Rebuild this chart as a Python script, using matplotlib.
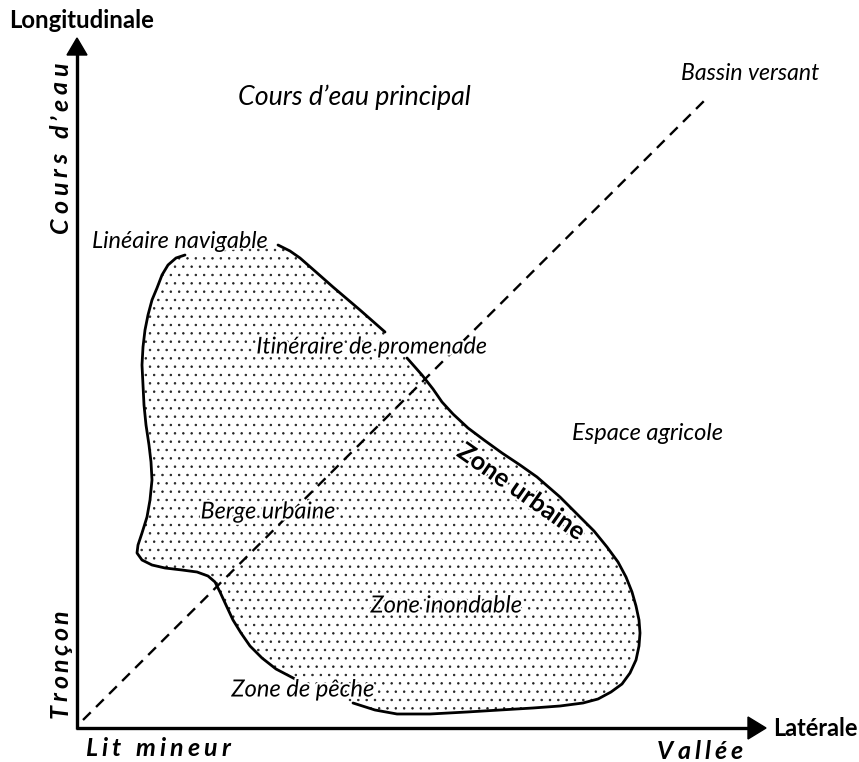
import matplotlib
matplotlib.use("Agg")
import matplotlib.pyplot as plt
from matplotlib.patches import Polygon
import matplotlib.patheffects as pe
import matplotlib as mpl

# ---- data (pixel-space coordinates of the conceptual diagram) ----
outline_left = [(185, 255), (176, 258), (168, 265), (162, 275), (157, 288), (152, 300),
                (148, 315), (145, 330), (143, 347), (142, 365), (143, 385), (144, 405),
                (146, 425), (149, 445), (151, 462), (152, 480), (150, 500), (147, 517),
                (142, 533), (138, 545), (137, 553), (142, 560), (152, 565), (165, 568),
                (182, 570), (197, 572), (208, 576), (215, 582), (220, 592), (226, 605),
                (233, 620), (241, 633), (250, 646), (262, 658), (276, 669), (297, 680)]
outline_bottom_right = [(353, 703), (375, 710), (397, 714), (430, 714), (467, 712),
                        (500, 710), (533, 708), (560, 706), (583, 703), (598, 699),
                        (611, 692), (622, 684), (630, 673), (636, 660), (639, 646),
                        (640, 633), (639, 620), (636, 606), (632, 592), (626, 577),
                        (618, 562), (607, 547), (594, 531), (580, 517), (560, 497),
                        (537, 477), (520, 465), (502, 453), (484, 440), (468, 428),
                        (453, 414), (442, 402), (433, 389), (422, 375), (407, 358)]
outline_top_right = [(278, 245), (290, 251), (300, 258), (316, 272), (333, 287),
                     (360, 310), (385, 332)]

diagonal = [(83, 720), (705, 100)]

axis_origin = (77, 728)
y_axis_tip = (77, 38)
x_axis_tip = (766, 728)

# (text, centre x, centre y, width in px, inside blob)
labels_italic = [
    ("Cours d\u2019eau principal", 354, 97, 234, False),
    ("Bassin versant", 750, 73, 138, False),
    ("Lin\u00e9aire navigable", 180, 242, 176, False),
    ("Itin\u00e9raire de promenade", 372, 347, 231, True),
    ("Espace agricole", 647, 434, 151, False),
    ("Berge urbaine", 268, 512, 135, True),
    ("Zone inondable", 446, 606, 152, True),
    ("Zone de p\u00eache", 303, 690, 143, True),
]
axis_titles = [("Longitudinale", 82, 20, 145), ("Lat\u00e9rale", 815, 728, 85)]
# text, start x, start y (baseline), length, rotation, fontsize
spaced_labels = [
    ("Cours d\u2019eau", 68, 233, 170, 90, 18),
    ("Tron\u00e7on", 68, 718, 108, 90, 18),
    ("Lit mineur", 85, 756, 145, 0, 18),
    ("Vall\u00e9e", 657, 759, 86, 0, 18),
]
urban_label = ("Zone urbaine", 521, 492, 150, -35)

fig = plt.figure(figsize=(8.59, 7.62), dpi=100)
ax = fig.add_axes([0, 0, 1, 1])
ax.set_xlim(0, 859)
ax.set_ylim(762, 0)
ax.axis("off")
renderer = fig.canvas.get_renderer()

FONT = "Lato"
halo = [pe.withStroke(linewidth=3, foreground="white")]


def fitted(txt, x, y, width, rotation=0, **kw):
    t = ax.text(x, y, txt, fontsize=10, ha="center", va="center", zorder=6,
                fontfamily=FONT, **kw)
    w = t.get_window_extent(renderer).width
    t.set_fontsize(10 * width / w)
    t.set_rotation(rotation)
    t.set_rotation_mode("anchor")
    return t


def spaced(txt, x0, y0, length, rotation, fs):
    widths = []
    for ch in txt:
        t = ax.text(0, 0, ch, fontsize=fs, fontfamily=FONT, fontweight="bold",
                    fontstyle="italic")
        widths.append(t.get_window_extent(renderer).width if ch != " " else fs * 0.35)
        t.remove()
    track = (length - sum(widths)) / (len(txt) - 1)
    pos = 0.0
    for ch, w in zip(txt, widths):
        if ch != " ":
            if rotation == 90:
                ax.text(x0, y0 - pos, ch, fontsize=fs, fontfamily=FONT,
                        fontweight="bold", fontstyle="italic", rotation=90,
                        rotation_mode="anchor", ha="left", va="baseline")
            else:
                ax.text(x0 + pos, y0, ch, fontsize=fs, fontfamily=FONT,
                        fontweight="bold", fontstyle="italic",
                        ha="left", va="baseline")
        pos += w + track


# stippled blob
poly_pts = outline_left + outline_bottom_right + outline_top_right[::-1]
mpl.rcParams["hatch.linewidth"] = 0.55
blob = Polygon(poly_pts, closed=True, facecolor="white", edgecolor="#222222",
               linewidth=0, hatch="..", zorder=1)
ax.add_patch(blob)

for seg in (outline_left, outline_bottom_right, outline_top_right):
    xs, ys = zip(*seg)
    ax.plot(xs, ys, color="black", lw=2.0, solid_capstyle="round",
            solid_joinstyle="round", zorder=3)

# dashed diagonal
(dx0, dy0), (dx1, dy1) = diagonal
ax.plot([dx0, dx1], [dy0, dy1], color="black", lw=1.7, dashes=(4.6, 3.2), zorder=2)

# axes arrows
ox, oy = axis_origin
ax.plot([ox, ox], [oy + 1, y_axis_tip[1] + 15], color="black", lw=2.4, zorder=4,
        solid_capstyle="butt")
ax.plot([ox - 1, x_axis_tip[0] - 16], [oy, oy], color="black", lw=2.4, zorder=4,
        solid_capstyle="butt")
ax.add_patch(Polygon([(ox - 10, y_axis_tip[1] + 17), (ox + 10, y_axis_tip[1] + 17),
                      y_axis_tip], closed=True, color="black", zorder=5))
ax.add_patch(Polygon([(x_axis_tip[0] - 18, oy - 11), (x_axis_tip[0] - 18, oy + 11),
                      x_axis_tip], closed=True, color="black", zorder=5))

for txt, x, y, w in axis_titles:
    fitted(txt, x, y, w, fontweight="bold")

for txt, x, y, length, rot, fs in spaced_labels:
    spaced(txt, x, y, length, rot, fs)

for txt, x, y, w, inside in labels_italic:
    t = fitted(txt, x, y, w, fontstyle="italic")
    if inside:
        t.set_path_effects(halo)

txt, x, y, w, rot = urban_label
t = fitted(txt, x, y, w, rotation=rot, fontweight="bold")
t.set_path_effects(halo)

fig.savefig("out.png", dpi=100)
